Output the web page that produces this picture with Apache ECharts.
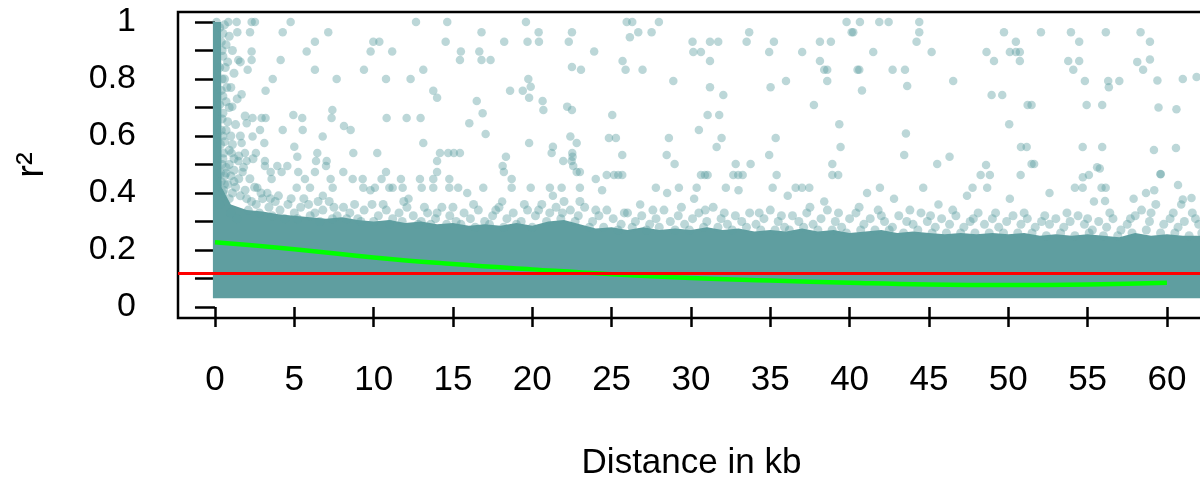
<!DOCTYPE html>
<html><head><meta charset="utf-8">
<script src="https://cdn.jsdelivr.net/npm/echarts@6/dist/echarts.min.js"></script>
<style>html,body{margin:0;padding:0;background:#fff}#c{width:1200px;height:479px}</style>
</head><body><div id="c"></div>
<script>
// x ticks (kb) and y ticks (r^2)
const xTicks = [0,5,10,15,20,25,30,35,40,45,50,55,60];
const yTicks = [0,0.1,0.2,0.3,0.4,0.5,0.6,0.7,0.8,0.9,1];
const yLabels = [0,0.2,0.4,0.6,0.8,1];

// dense band of points: upper envelope (kb, r2) and lower bound
const bandX   = [-0.13,0.38,0.42,1,1.5,2,3,4,5,6,7,8,9,10,11,12,13,14,15,16,17,18,19,20,21,22,23,24,25,26,27,28,29,30,31,32,33,34,35,36,37,38,39,40,41,42,43,44,45,46,47,48,49,50,51,52,53,54,55,56,57,58,59,60,61,62.6];
const bandTop = [1.0,1.0,0.42,0.36,0.35,0.34,0.335,0.325,0.32,0.315,0.31,0.315,0.305,0.30,0.305,0.295,0.30,0.29,0.295,0.285,0.29,0.285,0.295,0.285,0.30,0.305,0.29,0.275,0.28,0.27,0.28,0.27,0.275,0.27,0.28,0.27,0.275,0.265,0.27,0.265,0.275,0.265,0.27,0.26,0.265,0.27,0.26,0.265,0.26,0.255,0.26,0.255,0.26,0.255,0.26,0.25,0.255,0.25,0.255,0.25,0.245,0.26,0.25,0.255,0.25,0.25];
const bandBottom = 0.031;

// semi-transparent points at the edge of the dense band
const fringePoints = [
[0.5,0.40],[0.7,0.47],[0.9,0.38],[1.2,0.44],[1.6,0.39],[1.9,0.41],[2.3,0.37],[2.6,0.36],[3.0,0.38],[3.4,0.35],[3.8,0.37],[4.1,0.34],[4.6,0.36],[5.0,0.33],[5.4,0.35],[5.9,0.36],[6.3,0.33],[6.8,0.34],[7.2,0.37],[7.7,0.32],[8.1,0.35],[8.5,0.33],[9.0,0.31],[9.4,0.34],[9.9,0.36],[10.3,0.32],[10.8,0.34],[11.2,0.31],[11.6,0.33],[12.1,0.35],[12.5,0.32],[13.0,0.30],[13.4,0.33],[13.9,0.31],[14.3,0.35],[14.8,0.32],[15.2,0.30],[15.7,0.33],[16.1,0.31],[16.6,0.34],[17.0,0.30],[17.5,0.32],[17.9,0.35],[18.4,0.31],[18.8,0.33],[19.3,0.30],[19.7,0.34],[20.2,0.32],[20.6,0.36],[21.1,0.33],[21.5,0.35],[22.0,0.37],[22.4,0.34],[22.9,0.32],[23.3,0.35],[23.8,0.30],[24.2,0.32],[24.7,0.34],[25.1,0.31],[25.6,0.29],[26.0,0.33],[26.5,0.30],[26.9,0.32],[27.4,0.29],[27.8,0.31],[28.3,0.34],[28.7,0.30],[29.2,0.32],[29.6,0.29],[30.1,0.31],[30.5,0.33],[31.0,0.30],[31.4,0.35],[31.9,0.31],[32.3,0.29],[32.8,0.32],[33.2,0.30],[33.7,0.33],[34.1,0.29],[34.6,0.31],[35.0,0.34],[35.5,0.30],[35.9,0.28],[36.4,0.32],[36.8,0.30],[37.3,0.33],[37.7,0.29],[38.2,0.31],[38.6,0.34],[39.1,0.30],[39.5,0.28],[40.0,0.31],[40.4,0.33],[40.9,0.29],[41.3,0.31],[41.8,0.34],[42.2,0.30],[42.7,0.28],[43.1,0.32],[43.6,0.30],[44.0,0.29],[44.5,0.33],[44.9,0.30],[45.4,0.28],[45.8,0.31],[46.3,0.29],[46.7,0.32],[47.2,0.28],[47.6,0.30],[48.1,0.33],[48.5,0.29],[49.0,0.31],[49.4,0.28],[49.9,0.30],[50.3,0.32],[50.8,0.29],[51.2,0.31],[51.7,0.28],[52.1,0.30],[52.6,0.29],[53.0,0.31],[53.5,0.28],[53.9,0.30],[54.4,0.32],[54.8,0.29],[55.3,0.27],[55.7,0.30],[56.2,0.28],[56.6,0.31],[57.1,0.27],[57.5,0.29],[58.0,0.32],[58.4,0.34],[58.9,0.30],[59.3,0.36],[59.8,0.29],[60.2,0.31],[60.7,0.28],[61.1,0.30],[61.6,0.33],[62.0,0.29],
[0.3,0.36],[1.0,0.33],[1.4,0.31],[2.1,0.34],[2.8,0.33],[3.6,0.32],[4.4,0.31],[5.2,0.31],[6.0,0.32],[6.6,0.30],[7.4,0.31],[8.3,0.31],[9.2,0.30],[10.0,0.30],[11.0,0.29],[11.8,0.30],[12.8,0.29],[13.6,0.29],[14.6,0.29],[15.5,0.29],[16.4,0.28],[17.3,0.29],[18.2,0.28],[19.0,0.29],[20.0,0.28],[20.9,0.30],[21.8,0.31],[22.7,0.30],[23.6,0.28],[24.5,0.28],[25.4,0.27],[26.3,0.28],[27.2,0.27],[28.0,0.28],[29.0,0.27],[29.9,0.27],[30.8,0.28],[31.7,0.28],[32.6,0.27],[33.5,0.28],[34.4,0.27],[35.3,0.27],[36.2,0.27],[37.1,0.28],[38.0,0.27],[38.9,0.27],[39.8,0.26],[40.7,0.27],[41.6,0.27],[42.5,0.27],[43.4,0.26],[44.3,0.27],[45.2,0.26],[46.1,0.26],[47.0,0.26],[47.9,0.26],[48.8,0.26],[49.7,0.26],[50.6,0.26],[51.5,0.26],[52.4,0.25],[53.3,0.26],[54.2,0.25],[55.1,0.26],[56.0,0.25],[56.9,0.25],[57.8,0.26],[58.7,0.27],[59.6,0.26],[60.5,0.26],[61.4,0.25],[62.2,0.26],
[0.6,0.43],[1.1,0.40],[1.5,0.45],[2.0,0.38],[2.5,0.42],[2.9,0.40],[3.5,0.38],[4.0,0.39],[4.8,0.38],[5.6,0.38],[6.5,0.37],[7.5,0.35],[8.8,0.36],[10.6,0.36],[11.9,0.37],[13.2,0.35],[14.0,0.33],[15.0,0.35],[16.3,0.36],[17.7,0.34],[19.5,0.36],[20.4,0.34],[21.9,0.33],[23.0,0.37],[24.0,0.34],[25.8,0.33],[27.6,0.34],[29.4,0.35],[30.9,0.34],[32.1,0.33],[34.3,0.33],[35.7,0.32],[37.5,0.35],[39.3,0.33],[40.6,0.35],[42.0,0.32],[43.8,0.34],[45.1,0.32],[46.5,0.34],[47.8,0.31],[49.2,0.33],[51.0,0.33],[52.3,0.32],[53.7,0.33],[55.0,0.31],[56.4,0.33],[57.7,0.31],[59.0,0.33],[60.4,0.33],[61.8,0.31]
];

// points close to distance 0
const nearZeroPoints = [
[0.3,0.98],[0.4,0.93],[0.5,0.88],[0.3,0.84],[0.6,0.80],[0.4,0.76],[0.7,0.72],[0.5,0.68],[0.8,0.65],[0.4,0.62],[0.6,0.58],[0.9,0.55],[0.5,0.52],[0.7,0.49],[1.0,0.46],[0.4,0.44],[1.3,0.42],[0.6,0.99],[0.9,0.95],[1.1,0.90],[0.8,0.86],[1.2,0.82],[1.0,0.77],[1.4,0.73],[0.9,0.70],[1.3,0.64],[1.6,0.60],[1.1,0.57],[1.5,0.53],[1.8,0.49],[1.2,0.48],[2.2,0.45],[0.3,0.71],[0.35,0.57],[0.35,0.47],[0.7,0.92],[0.5,0.96],[1.6,0.86],[1.9,0.67],[2.4,0.52],
[0.45,0.90],[0.45,0.80],[0.5,0.74],[0.45,0.66],[0.5,0.60],[0.55,0.54],[0.45,0.50],[0.6,0.46],[0.8,0.43],[0.55,0.41],[0.7,0.62],[0.65,0.84],[0.75,0.77],[1.0,0.60],[1.2,0.52],[0.9,0.50]
];

// sparse high-r2 points
const sparsePoints = [
[0.1,1],[0.84,1],[1.37,1],[2.31,1],[2.52,1],[4.77,1],[12.67,1],[14.64,1],[19.6,1],
[1.41,0.964],[2.21,0.964],[4.27,0.964],[7.14,0.964],[16.8,0.964],[20.4,0.964],[22.5,0.964],
[6.3,0.931],[9.98,0.931],[10.36,0.931],[14.54,0.931],[18.23,0.931],[19.7,0.931],[20.42,0.931],[22.3,0.931],
[2.31,0.896],[5.78,0.896],[9.81,0.896],[11.17,0.896],[15.5,0.896],[16.66,0.896],[23.9,0.896],
[1.47,0.867],[2.31,0.867],[4.14,0.867],[15.44,0.867],[16.8,0.867],[17.37,0.867],
[2.06,0.832],[6.3,0.832],[9.39,0.832],[13.13,0.832],[23.07,0.832],[22.5,0.842],
[3.64,0.80],[7.67,0.80],[10.78,0.80],[12.33,0.80],[19.75,0.80],[19.9,0.773],
[3.19,0.759],[13.76,0.759],[18.6,0.759],[19.4,0.759],[1.68,0.746],[14.0,0.734],[19.8,0.734],
[16.5,0.723],[20.65,0.723],[1.09,0.703],[22.2,0.703],[7.4,0.691],[20.7,0.691],[22.5,0.691],[16.87,0.68],[4.94,0.674],
[2.37,0.663],[2.94,0.663],[3.19,0.663],[5.5,0.663],[7.35,0.663],[10.82,0.663],[12.08,0.663],[12.96,0.663],
[2.0,0.645],[16.03,0.645],[8.13,0.635],[2.84,0.621],[4.27,0.621],[5.53,0.621],[8.55,0.621],[17.06,0.607],
[2.37,0.598],[6.79,0.598],[22.4,0.598],[1.68,0.575],[3.11,0.575],[13.13,0.575],[19.8,0.575],[22.8,0.575],[5.0,0.562],[21.3,0.562],
[1.05,0.54],[1.89,0.54],[2.58,0.54],[6.45,0.54],[8.72,0.54],[10.23,0.54],[14.18,0.54],[14.7,0.54],[15.06,0.54],[15.44,0.54],[21.22,0.54],[22.52,0.54],
[5.19,0.527],[18.34,0.527],[22.54,0.527],
[1.47,0.512],[2.0,0.512],[3.15,0.512],[6.37,0.512],[7.04,0.512],[14.0,0.512],[21.95,0.512],[22.48,0.512],
[3.15,0.495],[3.93,0.495],[4.56,0.495],[7.0,0.495],[18.13,0.495],[22.58,0.495],
[1.74,0.474],[3.51,0.474],[4.2,0.474],[5.25,0.474],[6.3,0.474],[8.09,0.474],[10.78,0.474],[14.0,0.474],[18.21,0.474],[23.0,0.474],[22.8,0.474],
[3.57,0.449],[5.67,0.449],[7.29,0.449],[8.68,0.449],[9.31,0.449],[10.5,0.449],[11.72,0.449],[12.92,0.449],[13.76,0.449],[14.77,0.449],[18.7,0.449],[24.0,0.449],
[2.67,0.418],[5.15,0.418],[5.99,0.418],[7.42,0.418],[9.35,0.418],[10.08,0.418],[10.99,0.418],[11.2,0.418],[11.83,0.418],[13.03,0.418],[13.76,0.418],[14.77,0.418],[15.33,0.418],[16.91,0.418],[18.7,0.418],[19.9,0.418],[21.11,0.418],[21.85,0.418],[23.0,0.418],
[25.95,1],[26.3,1],[27.98,1],[39.81,1],[40.65,1],[41.87,1],[42.46,1],[44.39,1],
[26.68,0.964],[27.52,0.964],[33.67,0.964],[40.13,0.964],[40.23,0.964],[44.39,0.964],[49.73,0.964],[52.06,0.964],[53.95,0.964],[26.15,0.946],
[30.1,0.931],[31.2,0.931],[31.72,0.931],[33.51,0.931],[35.23,0.931],[38.13,0.931],[38.82,0.931],[44.22,0.931],[50.48,0.931],[54.47,0.931],
[30.15,0.895],[30.63,0.895],[34.93,0.895],[37.01,0.895],[41.49,0.895],[45.17,0.895],[48.63,0.895],[50.1,0.895],[50.48,0.895],[50.73,0.895],
[25.69,0.863],[31.2,0.863],[38.13,0.863],[49.1,0.863],[50.73,0.863],[53.78,0.863],[54.47,0.863],
[25.88,0.832],[26.95,0.832],[38.4,0.832],[38.59,0.832],[40.5,0.832],[40.61,0.832],[42.71,0.832],[43.49,0.832],[54.1,0.832],
[28.89,0.793],[35.99,0.793],[38.59,0.793],[46.53,0.793],[54.83,0.793],[56.3,0.793],[57.0,0.793],
[31.2,0.771],[35.02,0.771],[56.34,0.771],[32.04,0.744],[48.95,0.744],[49.62,0.744],[40.78,0.76],[43.63,0.775],
[37.75,0.709],[51.22,0.709],[51.47,0.709],[54.94,0.709],[55.92,0.709],[25.04,0.674],[31.05,0.674],[31.78,0.674],
[39.35,0.641],[50.06,0.641],[30.5,0.621],[43.55,0.609],
[24.83,0.593],[25.27,0.593],[28.61,0.593],[31.93,0.593],[35.34,0.593],
[31.62,0.561],[39.43,0.561],[50.8,0.561],[51.16,0.561],[54.69,0.561],[55.92,0.561],
[25.67,0.533],[28.47,0.533],[34.93,0.533],[43.44,0.533],
[28.97,0.502],[32.82,0.502],[33.76,0.502],[38.91,0.502],[45.52,0.502],[51.47,0.502],[51.63,0.502],
[24.69,0.463],[25.15,0.463],[25.42,0.463],[25.67,0.463],[30.63,0.463],[30.88,0.463],[31.05,0.463],[32.67,0.463],[32.98,0.463],[33.26,0.463],[35.4,0.463],[38.91,0.463],[39.28,0.463],[48.26,0.463],[48.84,0.463],[50.78,0.463],[55.08,0.463],
[27.79,0.418],[29.24,0.418],[30.36,0.418],[32.2,0.418],[35.15,0.418],[36.6,0.418],[37.0,0.418],[37.46,0.418],[41.91,0.418],[44.64,0.418],[47.75,0.418],[48.67,0.418],[54.2,0.418],[54.69,0.418],[55.88,0.418],[56.14,0.418],
[56.15,0.964],[58.34,0.964],[58.93,0.931],[58.13,0.86],[58.93,0.868],[58.5,0.832],[59.4,0.795],[61.0,0.80],[61.87,0.807],[59.47,0.70],[60.6,0.694],[59.18,0.551],[60.57,0.558],[59.6,0.466],[60.7,0.428],[58.68,0.40],[59.2,0.41],[56.1,0.372],[61.0,0.377],[61.55,0.382],[55.77,0.486],
[46.3,0.527],[48.6,0.498],[54.7,0.455],[55.6,0.49],[59.6,0.467],
[28.5,0.40],[30.2,0.38],[33.0,0.41],[36.1,0.39],[38.4,0.37],[41.1,0.40],[42.8,0.38],[45.6,0.36],[47.4,0.39],[50.1,0.38],[52.6,0.40],[55.4,0.37],[57.9,0.38],[60.9,0.36],
[3.3,0.40],[6.8,0.39],[9.8,0.41],[12.2,0.38],[15.9,0.40],[18.1,0.37],[21.3,0.39],[24.4,0.41],[26.8,0.36]
];

// smoothed decay curve (green) and threshold (red)
const curveX = [0,5,10,15,20,25,30,35,40,45,50,55,60];
const curveY = [0.227,0.203,0.174,0.151,0.132,0.115,0.102,0.093,0.085,0.079,0.077,0.079,0.085];
const threshold = 0.118;

const ptColor = 'rgba(95,158,160,0.52)';
const font = 'Liberation Sans, Arial, sans-serif';
const chart = echarts.init(document.getElementById('c'), null, {renderer:'canvas'});
chart.setOption({
  animation:false,
  grid:{left:178, top:12, width:1027, height:306, containLabel:false, outerBoundsMode:'none',
        show:true, borderColor:'#000', borderWidth:2.5, backgroundColor:'transparent'},
  xAxis:{type:'value', min:-2.33, max:62.4,
    axisLine:{show:false}, splitLine:{show:false},
    axisTick:{show:true, length:20, customValues:xTicks, lineStyle:{color:'#000', width:2.5}},
    axisLabel:{customValues:xTicks, fontSize:35, color:'#000', fontFamily:font, margin:45},
    name:'Distance in kb', nameLocation:'middle', nameGap:128,
    nameTextStyle:{fontSize:35, color:'#000', fontFamily:font}},
  yAxis:{type:'value', min:-0.0386, max:1.035,
    axisLine:{show:false}, splitLine:{show:false},
    axisTick:{show:true, length:20, customValues:yTicks, lineStyle:{color:'#000', width:2.5}},
    axisLabel:{customValues:yLabels, fontSize:34, color:'#000', fontFamily:font, margin:42},
    name:'r²', nameLocation:'middle', nameRotate:90, nameGap:126,
    nameTextStyle:{fontSize:38, color:'#000', fontFamily:font}},
  series:[
    {type:'custom', silent:true, z:1, clip:true,
     data: bandX.map((x,i)=>[x,bandTop[i]]),
     renderItem:function(params, api){
       if(params.dataIndex!==0) return;
       const pts=[];
       for(let i=0;i<bandX.length;i++) pts.push(api.coord([bandX[i], bandTop[i]]));
       for(let i=bandX.length-1;i>=0;i--) pts.push(api.coord([bandX[i], bandBottom]));
       return {type:'polygon', shape:{points:pts}, style:{fill:'rgb(95,158,160)'}};
     }},
    {type:'scatter', silent:true, z:2, symbolSize:9, data:fringePoints, itemStyle:{color:ptColor}},
    {type:'scatter', silent:true, z:2, symbolSize:9, data:nearZeroPoints, itemStyle:{color:ptColor}},
    {type:'scatter', silent:true, z:2, symbolSize:8.5, data:sparsePoints, itemStyle:{color:ptColor}},
    {type:'line', silent:true, z:3, smooth:true, symbol:'none',
     data:curveX.map((x,i)=>[x,curveY[i]]), lineStyle:{color:'#00FF00', width:4.5}},
    {type:'line', silent:true, z:4, symbol:'none', data:[],
     markLine:{silent:true, symbol:'none', label:{show:false},
       lineStyle:{color:'#FF0000', width:3, type:'solid'}, data:[{yAxis:threshold}]}}
  ]
});
</script></body></html>
